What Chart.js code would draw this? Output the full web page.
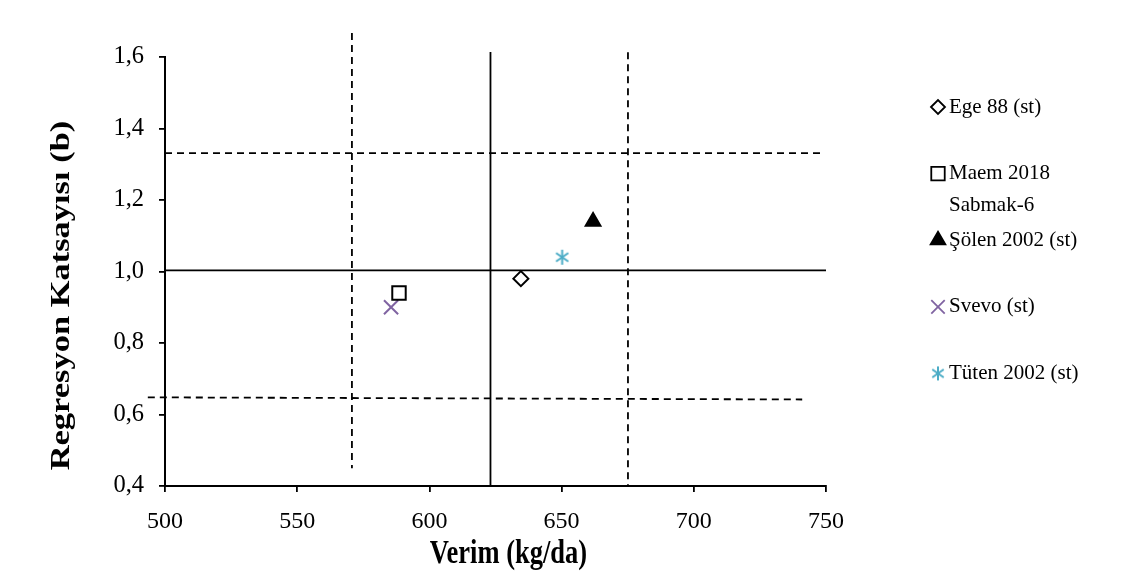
<!DOCTYPE html>
<html>
<head>
<meta charset="utf-8">
<script src="https://cdn.jsdelivr.net/npm/chart.js@4.4.1/dist/chart.umd.min.js"></script>
<style>
  html, body { margin: 0; padding: 0; background: #fff; }
  #wrap { width: 1131px; height: 588px; position: relative; }
</style>
</head>
<body>
<div id="wrap"><canvas id="chart"></canvas></div>
<script>
// --- Data ---
const varieties = ['Ege 88 (st)', 'Maem 2018\nSabmak-6', 'Şölen 2002 (st)', 'Svevo (st)', 'Tüten 2002 (st)'];
const yieldVals = [634.6, 588.5, 661.9, 585.5, 650.2];
const bVals = [0.98, 0.94, 1.14, 0.90, 1.04];

const xTicks = [500, 550, 600, 650, 700, 750];
const yTicks = [0.4, 0.6, 0.8, 1.0, 1.2, 1.4, 1.6];

const xTitle = 'Verim (kg/da)';
const yTitle = 'Regresyon Katsayısı (b)';

// reference lines: [x1, y1, x2, y2]
const meanYieldLine = [623.1, 1.614, 623.1, 0.4];
const meanBLine = [500, 1.003, 750, 1.003];
const lowYieldLine = [570.7, 1.667, 570.7, 0.45];
const highYieldLine = [675.1, 1.613, 675.1, 0.4];
const highBLine = [500, 1.331, 748, 1.331];
const lowBLine = [493.5, 0.648, 741, 0.642];

const serif = "'Liberation Serif', 'Times New Roman', serif";

// six-armed asterisk marker
function makeAsterisk(size, color) {
  const c = document.createElement('canvas');
  c.width = size; c.height = size;
  const g = c.getContext('2d');
  const r = size / 2 - 1;
  g.strokeStyle = color;
  g.lineWidth = 2;
  g.translate(size / 2, size / 2);
  [90, 35, -35].forEach(a => {
    const t = a * Math.PI / 180;
    g.beginPath();
    g.moveTo(-r * Math.cos(t), -r * Math.sin(t));
    g.lineTo(r * Math.cos(t), r * Math.sin(t));
    g.stroke();
  });
  return c;
}

const markerStyles = [
  { pointStyle: 'rectRot', bg: '#fff', border: '#000', radius: 7.5 },
  { pointStyle: 'rect', bg: '#fff', border: '#000', radius: 9.5 },
  { pointStyle: 'triangle', bg: '#000', border: '#000', radius: 8.5 },
  { pointStyle: 'crossRot', bg: '#8064A2', border: '#8064A2', radius: 10 },
  { pointStyle: makeAsterisk(17, '#4BACC6'), bg: '#4BACC6', border: '#4BACC6', radius: 8.5 },
];
const legendMarkers = [
  { pointStyle: 'rectRot', radius: 7 },
  { pointStyle: 'rect', radius: 9.5 },
  { pointStyle: 'triangle', radius: 8.5 },
  { pointStyle: 'crossRot', radius: 9.5 },
  { pointStyle: makeAsterisk(16, '#4BACC6'), radius: 8 },
];

function refLine(pts, dashed) {
  return {
    type: 'line',
    data: [{ x: pts[0], y: pts[1] }, { x: pts[2], y: pts[3] }],
    borderColor: '#000',
    borderWidth: 1.8,
    borderDash: dashed ? [7, 5] : [],
    pointRadius: 0,
    showLine: true,
    clip: false,
    fill: false,
    order: 10,
  };
}

const pointSets = varieties.map((name, i) => ({
  type: 'scatter',
  label: name,
  data: [{ x: yieldVals[i], y: bVals[i] }],
  pointStyle: markerStyles[i].pointStyle,
  pointRadius: markerStyles[i].radius,
  pointBackgroundColor: markerStyles[i].bg,
  pointBorderColor: markerStyles[i].border,
  pointBorderWidth: 2,
  order: 1,
}));

// --- Side legend and stretched axis titles ---
const extras = {
  id: 'extras',
  afterDraw(chart) {
    const ctx = chart.ctx;
    const area = chart.chartArea;
    ctx.save();
    ctx.font = '21px ' + serif;
    ctx.textBaseline = 'middle';
    ctx.textAlign = 'left';
    varieties.forEach((name, i) => {
      const y = 107 + i * 66.6;
      const st = markerStyles[i];
      ctx.fillStyle = st.bg;
      ctx.strokeStyle = st.border;
      ctx.lineWidth = 1.8;
      Chart.helpers.drawPoint(ctx, { pointStyle: legendMarkers[i].pointStyle, radius: legendMarkers[i].radius, borderWidth: 1.8 }, 938, y);
      ctx.fillStyle = '#000';
      name.split('\n').forEach((line, j) => ctx.fillText(line, 949, y + j * 32));
    });

    // axis titles (taller than wide, as in the original)
    ctx.fillStyle = '#000';
    ctx.font = 'bold 26.5px ' + serif;
    ctx.textAlign = 'center';
    ctx.textBaseline = 'middle';
    ctx.save();
    ctx.translate((area.left + area.right) / 2 + 13, 554);
    ctx.scale(1, 1.3);
    ctx.fillText(xTitle, 0, 0);
    ctx.restore();
    ctx.save();
    ctx.translate(62, (area.top + area.bottom) / 2 + 24);
    ctx.rotate(-Math.PI / 2);
    ctx.scale(1.3, 1);
    ctx.fillText(yTitle, 0, 0);
    ctx.restore();
    ctx.restore();
  }
};

new Chart(document.getElementById('chart'), {
  type: 'scatter',
  data: {
    datasets: [
      ...pointSets,
      refLine(meanYieldLine, false),
      refLine(meanBLine, false),
      refLine(lowYieldLine, true),
      refLine(highYieldLine, true),
      refLine(highBLine, true),
      refLine(lowBLine, true),
    ]
  },
  options: {
    responsive: true,
    maintainAspectRatio: false,
    animation: false,
    layout: { padding: { left: 0, top: 57, right: 305, bottom: 0 } },
    plugins: { legend: { display: false }, tooltip: { enabled: false } },
    scales: {
      x: {
        type: 'linear',
        min: 500, max: 750,
        afterBuildTicks: s => { s.ticks = xTicks.map(v => ({ value: v })); },
        afterFit: s => { s.height = 102; },
        grid: { drawOnChartArea: false, color: '#000', tickLength: 6, lineWidth: 1.8 },
        border: { color: '#000', width: 2 },
        ticks: { color: '#000', padding: 15, font: { family: serif, size: 24 } },
      },
      y: {
        type: 'linear',
        min: 0.4, max: 1.6,
        afterBuildTicks: s => { s.ticks = yTicks.map(v => ({ value: v })); },
        afterFit: s => { s.width = 165; },
        grid: { drawOnChartArea: false, color: '#000', tickLength: 6, lineWidth: 1.8 },
        border: { color: '#000', width: 2 },
        ticks: {
          color: '#000', padding: 15, font: { family: serif, size: 24.5 },
          callback: v => v.toFixed(1).replace('.', ',')
        },
      }
    }
  },
  plugins: [extras]
});
</script>
</body>
</html>
